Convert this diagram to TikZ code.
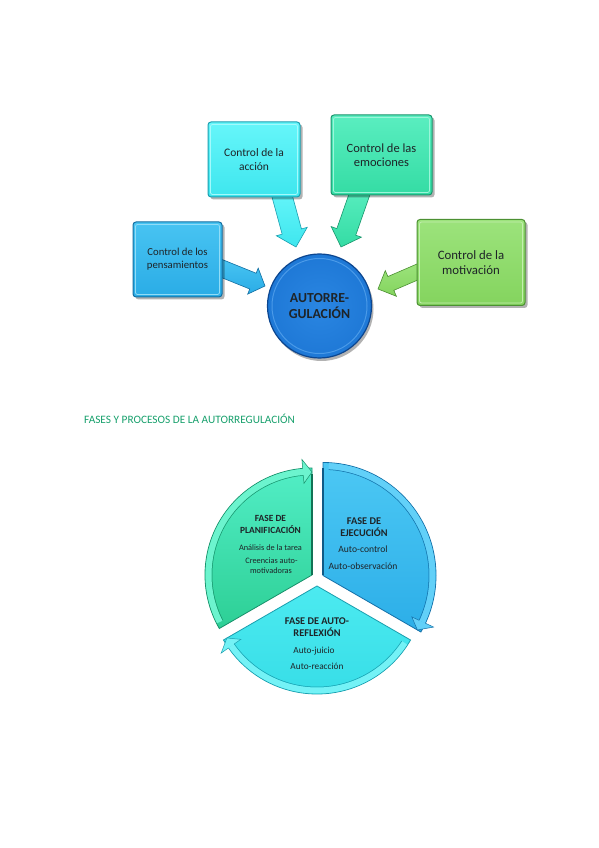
\documentclass[tikz,border=0pt]{standalone}
\usepackage{fontspec}
\setmainfont{Carlito}
\usetikzlibrary{calc,shadows}
\definecolor{txt}{HTML}{1E2428}
\definecolor{accT}{HTML}{66F6FA}\definecolor{accB}{HTML}{3EE6EE}\definecolor{accD}{HTML}{1C9FB0}
\definecolor{emoT}{HTML}{5AEEC0}\definecolor{emoB}{HTML}{34DCA4}\definecolor{emoD}{HTML}{18956C}
\definecolor{penT}{HTML}{48C4F2}\definecolor{penB}{HTML}{2AACE6}\definecolor{penD}{HTML}{136FA2}
\definecolor{motT}{HTML}{9CE37C}\definecolor{motB}{HTML}{84D45E}\definecolor{motD}{HTML}{4C9032}
\definecolor{cirC}{HTML}{1E78D6}\definecolor{cirI}{HTML}{2A86E2}\definecolor{cirL}{HTML}{4A9AE8}\definecolor{cirD}{HTML}{0C4690}
\definecolor{planT}{HTML}{52EEC6}\definecolor{planB}{HTML}{2DCF95}\definecolor{planL}{HTML}{6CF4CE}\definecolor{planD}{HTML}{17906A}
\definecolor{ejeT}{HTML}{4CC8F4}\definecolor{ejeB}{HTML}{2CAEE8}\definecolor{ejeL}{HTML}{62D0F8}\definecolor{ejeD}{HTML}{1470A8}
\definecolor{refT}{HTML}{4CEAF0}\definecolor{refB}{HTML}{34DCE6}\definecolor{refL}{HTML}{74F2F6}\definecolor{refD}{HTML}{1A9EAE}
\definecolor{titleC}{HTML}{17A06C}
% block arrow: start, tip, shaft half width, head half width, head length, style
\newcommand\blkarrow[6]{%
  \coordinate (babase) at ($(#2)!#5pt!(#1)$);
  \path[#6] ($(#1)!#3pt!90:(#2)$) -- ($(babase)!#3pt!90:(#2)$) -- ($(babase)!#4pt!90:(#2)$)
     -- (#2) -- ($(babase)!#4pt!-90:(#2)$) -- ($(babase)!#3pt!-90:(#2)$) -- ($(#1)!#3pt!-90:(#2)$) -- cycle;}
\newcommand\innerframe[2]{\draw[#2, line width=0.8pt, rounded corners=2pt]
  ($(#1.south west)+(3,3)$) rectangle ($(#1.north east)+(-3,-3)$);}
\tikzset{
  cbox/.style={rectangle, rounded corners=3pt, align=center, text=txt, line width=1pt,
    drop shadow={shadow xshift=2.5pt, shadow yshift=-2.5pt, fill=black, opacity=0.3}},
  barrow/.style={line width=0.6pt},
  boldtxt/.style={text=txt, font=\bfseries\fontsize{#1}{12}\selectfont, anchor=base},
  regtxt/.style={text=txt, font=\fontsize{#1}{12}\selectfont, anchor=base}
}
\begin{document}
\begin{tikzpicture}[x=1pt,y=1pt]
\useasboundingbox (0,0) rectangle (599,848);
\fill[white] (0,0) rectangle (599,848);

% ---------- top diagram: arrows ----------
\coordinate (accS) at (281,656); \coordinate (accE) at (296,601);
\coordinate (emoS) at (361,658); \coordinate (emoE) at (341,601);
\coordinate (penS) at (218,581); \coordinate (penE) at (265,562);
\coordinate (motS) at (422,578); \coordinate (motE) at (378,559);
\blkarrow{accS}{accE}{10}{16}{16}{barrow, top color=accT, bottom color=accB, draw=accD}
\blkarrow{emoS}{emoE}{10}{16}{16}{barrow, top color=emoT, bottom color=emoB, draw=emoD}
\blkarrow{penS}{penE}{8.5}{14}{13}{barrow, top color=penT, bottom color=penB, draw=penD}
\blkarrow{motS}{motE}{7.5}{14}{14}{barrow, top color=motT, bottom color=motB, draw=motD}

% ---------- boxes ----------
\node[cbox, top color=accT, bottom color=accB, draw=accD, minimum width=92pt, minimum height=75pt,
  font=\fontsize{11.5}{14}\selectfont] (acc) at (254,688.5) {Control de la\\acción};
\innerframe{acc}{accT!60!white}
\node[cbox, top color=emoT, bottom color=emoB, draw=emoD, minimum width=101pt, minimum height=80pt,
  font=\fontsize{12.5}{14.5}\selectfont] (emo) at (381.5,693) {Control de las\\emociones};
\innerframe{emo}{emoT!60!white}
\node[cbox, top color=penT, bottom color=penB, draw=penD, minimum width=89pt, minimum height=75pt,
  font=\fontsize{10.7}{13}\selectfont] (pen) at (177.5,588.5) {Control de los\\pensamientos};
\innerframe{pen}{penT!60!white}
\node[cbox, top color=motT, bottom color=motB, draw=motD, minimum width=108pt, minimum height=86pt,
  font=\fontsize{12.8}{15}\selectfont] (mot) at (471,585.5) {Control de la\\motivación};
\innerframe{mot}{motT!60!white}

% ---------- central circle ----------
\node[circle, minimum size=104pt, inner sep=0pt, inner color=cirI, outer color=cirC, draw=cirD, line width=1.2pt,
  drop shadow={shadow xshift=2pt, shadow yshift=-3pt, fill=black, opacity=0.3},
  align=center, text=txt, font=\bfseries\fontsize{13.8}{15.5}\selectfont] (core) at (319.5,542)
  {AUTORRE-\\GULACIÓN};
\draw[cirL, line width=1pt] (core.center) circle (47.5);

% ---------- title ----------
\node[anchor=base west, inner sep=0pt, text=titleC, font=\fontsize{11.3}{13}\selectfont] (title)
  at (84,424) {FASES Y PROCESOS DE LA AUTORREGULACIÓN};

% ---------- cycle: planificacion (left) ----------
\coordinate (V1) at (312,273);
\path[top color=planT, bottom color=planB, draw=planD, line width=0.8pt]
  (V1) -- ($(V1)+(90:107)$) arc[start angle=90, end angle=210, radius=107] -- cycle;
\draw[planL, line width=6pt] ($(V1)+(207:103.5)$) arc[start angle=207, end angle=95, radius=103.5];
\draw[planD, line width=0.5pt] ($(V1)+(207:100)$) arc[start angle=207, end angle=95, radius=100];
\fill[planL] ($(V1)+(95:116)$) -- ($(V1)+(90:103)$) -- ($(V1)+(95:92)$) -- cycle;
\draw[planD, line width=0.5pt] ($(V1)+(95:100)$) -- ($(V1)+(95:92)$) -- ($(V1)+(90:103)$)
  -- ($(V1)+(95:116)$) -- ($(V1)+(95:107)$);
\draw[planD!80!black, line width=2pt] (V1) -- ($(V1)+(90:101)$);

% ---------- cycle: ejecucion (right) ----------
\coordinate (V2) at (323,272.5);
\path[top color=ejeT, bottom color=ejeB, draw=ejeD, line width=0.8pt]
  (V2) -- ($(V2)+(90:113)$) arc[start angle=90, end angle=-30, radius=113] -- cycle;
\draw[ejeL, line width=6pt] ($(V2)+(87:109.5)$) arc[start angle=87, end angle=-25, radius=109.5];
\draw[ejeD, line width=0.5pt] ($(V2)+(87:106)$) arc[start angle=87, end angle=-25, radius=106];
\fill[ejeL] ($(V2)+(-25:122)$) -- ($(V2)+(-30:109)$) -- ($(V2)+(-25:98)$) -- cycle;
\draw[ejeD, line width=0.5pt] ($(V2)+(-25:106)$) -- ($(V2)+(-25:98)$) -- ($(V2)+(-30:109)$)
  -- ($(V2)+(-25:122)$) -- ($(V2)+(-25:113)$);
\draw[ejeD!80!black, line width=2pt] (V2) -- ($(V2)+(90:107)$);

% ---------- cycle: autorreflexion (bottom) ----------
\coordinate (V3) at (317,262);
\path[top color=refT, bottom color=refB, draw=refD, line width=0.8pt]
  (V3) -- ($(V3)+(210:108)$) arc[start angle=210, end angle=330, radius=108] -- cycle;
\draw[refL, line width=6pt] ($(V3)+(327:104.5)$) arc[start angle=327, end angle=215, radius=104.5];
\draw[refD, line width=0.5pt] ($(V3)+(327:101)$) arc[start angle=327, end angle=215, radius=101];
\fill[refL] ($(V3)+(215:117)$) -- ($(V3)+(210:104)$) -- ($(V3)+(215:93)$) -- cycle;
\draw[refD, line width=0.5pt] ($(V3)+(215:101)$) -- ($(V3)+(215:93)$) -- ($(V3)+(210:104)$)
  -- ($(V3)+(215:117)$) -- ($(V3)+(215:108)$);

% ---------- cycle texts ----------
\node[boldtxt=9.4] (p1) at (270.5,326) {FASE DE};
\node[boldtxt=9.4] (p2) at (270.5,314) {PLANIFICACIÓN};
\node[regtxt=8.3] (p3) at (270.5,297) {Análisis de la tarea};
\node[regtxt=8.3] (p4) at (271.5,284) {Creencias auto-};
\node[regtxt=8.3] (p5) at (271,274) {motivadoras};

\node[boldtxt=10.3] (e1) at (364,323) {FASE DE};
\node[boldtxt=10.3] (e2) at (364,311.5) {EJECUCIÓN};
\node[regtxt=9.6] (e3) at (363,295) {Auto-control};
\node[regtxt=9.6] (e4) at (363,278) {Auto-observación};

\node[boldtxt=10.3] (r1) at (317,223) {FASE DE AUTO-};
\node[boldtxt=10.3] (r2) at (317,211.5) {REFLEXIÓN};
\node[regtxt=9.3] (r3) at (314,194) {Auto-juicio};
\node[regtxt=9.3] (r4) at (317,178) {Auto-reacción};
\end{tikzpicture}
\end{document}
